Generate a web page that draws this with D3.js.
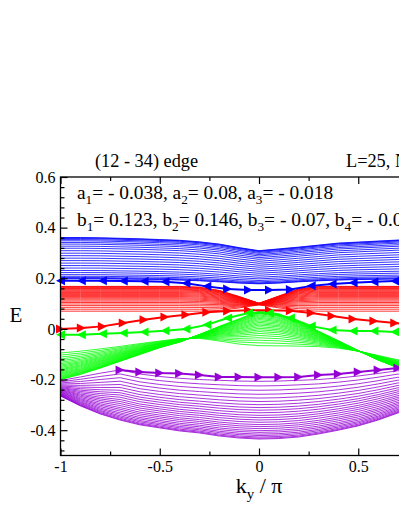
<!DOCTYPE html>
<html><head><meta charset="utf-8">
<script src="https://cdn.jsdelivr.net/npm/d3@7"></script>
<style>
body{margin:0;background:#fff;}
svg{display:block;}
text{font-family:"Liberation Serif","Times New Roman",serif;fill:#000;}
</style>
</head><body>
<svg id="c" width="399" height="516"></svg>
<script>
// ---------- data ----------
const bandK = [-1,-0.9,-0.8,-0.7,-0.6,-0.5,-0.4,-0.3,-0.2,-0.1,0,0.1,0.2,0.3,0.4,0.5,0.6,0.7,0.8,0.9,1];

// blue band envelopes
const blueTop    = [0.361,0.361,0.360,0.358,0.356,0.353,0.350,0.344,0.335,0.321,0.309,0.316,0.323,0.331,0.339,0.343,0.347,0.351,0.355,0.359,0.361];
const blueBottom = [0.198,0.198,0.198,0.197,0.196,0.195,0.193,0.190,0.186,0.181,0.178,0.181,0.186,0.190,0.193,0.195,0.196,0.197,0.198,0.198,0.198];
// red band envelopes
const redTop     = [0.168,0.168,0.168,0.168,0.168,0.168,0.168,0.165,0.152,0.128,0.101,0.130,0.158,0.168,0.168,0.168,0.168,0.168,0.168,0.168,0.168];
const redBottom  = [0.070,0.070,0.070,0.070,0.070,0.070,0.070,0.070,0.073,0.083,0.095,0.083,0.073,0.070,0.070,0.070,0.070,0.070,0.070,0.070,0.070];
// green band: two crossing boundary lines
const greenA     = [-0.095,-0.088,-0.079,-0.069,-0.058,-0.048,-0.038,-0.037,-0.048,-0.060,-0.066,-0.067,-0.068,-0.070,-0.076,-0.088,-0.105,-0.122,-0.120,-0.105,-0.095];
const greenB     = [-0.200,-0.180,-0.155,-0.128,-0.101,-0.074,-0.052,-0.022,0.010,0.040,0.071,0.060,0.028,-0.009,-0.047,-0.086,-0.123,-0.154,-0.175,-0.190,-0.200];
// purple band envelopes
const purpleTop    = [-0.204,-0.190,-0.175,-0.162,-0.178,-0.188,-0.195,-0.200,-0.203,-0.206,-0.207,-0.206,-0.203,-0.200,-0.194,-0.186,-0.176,-0.165,-0.175,-0.190,-0.204];
const purpleBottom = [-0.265,-0.304,-0.336,-0.360,-0.379,-0.391,-0.403,-0.411,-0.423,-0.431,-0.435,-0.433,-0.427,-0.415,-0.400,-0.383,-0.360,-0.332,-0.305,-0.280,-0.265];

// relative positions of the bulk lines inside each band
const blueLevels  = [0,0.01,0.03,0.06,0.10,0.15,0.20,0.26,0.32,0.38,0.44,0.50,0.56,0.62,0.68,0.74,0.79,0.84,0.88,0.92,0.95,0.975,0.99,1];
const denseLevels = [0,0.08,0.155,0.225,0.29,0.35,0.405,0.455,0.50,0.545,0.59,0.63,0.67,0.71,0.75,0.785,0.82,0.855,0.885,0.915,0.94,0.965,0.985,1];

// edge states (with markers)
const edgeK = [-1,-0.895,-0.789,-0.684,-0.579,-0.474,-0.368,-0.263,-0.158,-0.053,0.053,0.158,0.263,0.368,0.474,0.579,0.684,0.789,0.895,1];
const blueEdge  = [0.190,0.190,0.190,0.189,0.188,0.186,0.180,0.168,0.158,0.154,0.154,0.156,0.170,0.177,0.182,0.186,0.189,0.190,0.190,0.190];
const blueDir   = ["L","L","L","L","L","L","L","L","R","R","R","R","L","L","L","L","L","L","L","L"];
const redEdge   = [0.000,0.004,0.010,0.023,0.036,0.047,0.056,0.066,0.071,0.074,0.074,0.072,0.063,0.051,0.039,0.031,0.023,0.014,0.006,0.000];
const greenEdge = [-0.023,-0.023,-0.019,-0.016,-0.012,-0.007,0.000,0.016,0.043,0.063,0.063,0.043,0.011,-0.004,-0.008,-0.008,-0.012,-0.016,-0.020,-0.023];
const purpleK    = [-0.7,-0.6,-0.5,-0.4,-0.3,-0.2,-0.1,0,0.1,0.2,0.3,0.4,0.5,0.6,0.7,0.8];
const purpleEdge = [-0.162,-0.170,-0.174,-0.176,-0.182,-0.190,-0.190,-0.191,-0.191,-0.190,-0.182,-0.178,-0.170,-0.162,-0.154,-0.145];

// ticks
const xMajor = [-1,-0.5,0,0.5,1];
const xLabels = ["-1","-0.5","0","0.5","1"];
const xMinor = [-0.75,-0.25,0.25,0.75];
const yMajor = [-0.4,-0.2,0,0.2,0.4,0.6];
const yLabels = ["-0.4","-0.2","0","0.2","0.4","0.6"];
const yMinor = [-0.48,-0.44,-0.36,-0.32,-0.28,-0.24,-0.16,-0.12,-0.08,-0.04,0.04,0.08,0.12,0.16,0.24,0.28,0.32,0.36,0.44,0.48,0.52,0.56];

const COL = {blue:"#0000ff", red:"#ff0000", green:"#00ff00", purple:"#9400d3"};

// ---------- drawing ----------
const svg = d3.select("#c");
svg.append("rect").attr("width",399).attr("height",516).attr("fill","#fff");

const x = d3.scaleLinear().domain([-1,1]).range([60.5,457.5]);
const y = d3.scaleLinear().domain([-0.5,0.6]).range([455.5,177]);
const line = d3.line().x(d=>x(d[0])).y(d=>y(d[1]));

function bandLines(lo, hi, levels){
  return levels.map(f => bandK.map((k,i)=>[k, lo[i] + f*(hi[i]-lo[i])]));
}
const bands = [
  {c:COL.blue,   lines:bandLines(blueBottom, blueTop, blueLevels)},
  {c:COL.red,    lines:bandLines(redBottom, redTop, denseLevels)},
  {c:COL.green,  lines:bandLines(greenA, greenB, denseLevels)},
  {c:COL.purple, lines:bandLines(purpleTop, purpleBottom, denseLevels)}
];
const gb = svg.append("g");
bands.forEach(b=>{
  gb.append("g").selectAll("path").data(b.lines).join("path")
    .attr("d", line).attr("fill","none").attr("stroke", b.c).attr("stroke-width",0.8);
});

const triR = "M-4.5,-4.5L4.5,0L-4.5,4.5Z";
const triL = "M4.5,-4.5L-4.5,0L4.5,4.5Z";
function edge(ks, vals, dirs, color){
  const pts = ks.map((k,i)=>({k, v:vals[i], d:dirs[i]}));
  const g = svg.append("g");
  g.append("path").datum(pts.map(p=>[p.k,p.v])).attr("d", line)
    .attr("fill","none").attr("stroke",color).attr("stroke-width",2);
  g.selectAll("path.m").data(pts).join("path").attr("class","m")
    .attr("d", p=> p.d==="R" ? triR : triL)
    .attr("transform", p=>`translate(${x(p.k)},${y(p.v)})`)
    .attr("fill", color);
}
edge(edgeK, blueEdge, blueDir, COL.blue);
edge(edgeK, redEdge, edgeK.map(()=>"R"), COL.red);
edge(edgeK, greenEdge, edgeK.map(()=>"L"), COL.green);
edge(purpleK, purpleEdge, purpleK.map(()=>"R"), COL.purple);

// frame
svg.append("rect").attr("x",x(-1)).attr("y",y(0.6))
  .attr("width",x(1)-x(-1)).attr("height",y(-0.5)-y(0.6))
  .attr("fill","none").attr("stroke","#000").attr("stroke-width",1.3);

function styleAxis(g, fs){
  g.attr("font-family",null);
  g.select(".domain").remove();
  g.selectAll("line").attr("stroke","#000").attr("stroke-width",1.2);
  g.selectAll("text").attr("font-size",fs).style("font-family","'Liberation Serif', serif");
}
// bottom
const gx = svg.append("g").attr("transform",`translate(0,${y(-0.5)})`)
  .call(d3.axisBottom(x).tickValues(xMajor).tickFormat((d,i)=>xLabels[i]).tickSize(-7).tickPadding(5));
styleAxis(gx, 16);
const gxm = svg.append("g").attr("transform",`translate(0,${y(-0.5)})`)
  .call(d3.axisBottom(x).tickValues(xMinor).tickFormat("").tickSize(-4));
styleAxis(gxm, 16);
// top
const gt = svg.append("g").attr("transform",`translate(0,${y(0.6)})`)
  .call(d3.axisTop(x).tickValues(xMajor).tickFormat("").tickSize(-7));
styleAxis(gt, 16);
const gtm = svg.append("g").attr("transform",`translate(0,${y(0.6)})`)
  .call(d3.axisTop(x).tickValues(xMinor).tickFormat("").tickSize(-4));
styleAxis(gtm, 16);
// left
const gy = svg.append("g").attr("transform",`translate(${x(-1)},0)`)
  .call(d3.axisLeft(y).tickValues(yMajor).tickFormat((d,i)=>yLabels[i]).tickSize(-7).tickPadding(5));
styleAxis(gy, 16);
const gym = svg.append("g").attr("transform",`translate(${x(-1)},0)`)
  .call(d3.axisLeft(y).tickValues(yMinor).tickFormat("").tickSize(-4));
styleAxis(gym, 16);
// right (off-screen)
const gr = svg.append("g").attr("transform",`translate(${x(1)},0)`)
  .call(d3.axisRight(y).tickValues(yMajor).tickFormat("").tickSize(-7));
styleAxis(gr, 16);

// rich text helper with subscripts
function rich(xp, yp, parts, fs, anchor){
  const t = svg.append("text").attr("x",xp).attr("y",yp).attr("font-size",fs)
    .attr("text-anchor", anchor||"start");
  let shifted = false;
  parts.forEach(p=>{
    const s = t.append("tspan").text(p[0]);
    if(p[1]==="sub"){ s.attr("font-size", fs*0.68).attr("dy", fs*0.28); shifted=true; }
    else if(shifted){ s.attr("dy", -fs*0.28); shifted=false; }
  });
  return t;
}
// titles
svg.append("text").attr("x",95).attr("y",167).attr("font-size",18.3).text("(12 - 34) edge");
svg.append("text").attr("x",346).attr("y",167).attr("font-size",18.3).text("L=25, N=100");

rich(77, 199, [["a"],["1","sub"],["= - 0.038, a"],["2","sub"],["= 0.08, a"],["3","sub"],["= - 0.018"]], 19.4);
rich(77, 226, [["b"],["1","sub"],["= 0.123, b"],["2","sub"],["= 0.146, b"],["3","sub"],["= - 0.07, b"],["4","sub"],["= - 0.04"]], 19.4);

// axis labels
svg.append("text").attr("x",16).attr("y",322).attr("font-size",21).attr("text-anchor","middle").text("E");
rich(259, 493, [["k"],["y","sub"],[" / π"]], 22, "middle");
</script>
</body></html>
